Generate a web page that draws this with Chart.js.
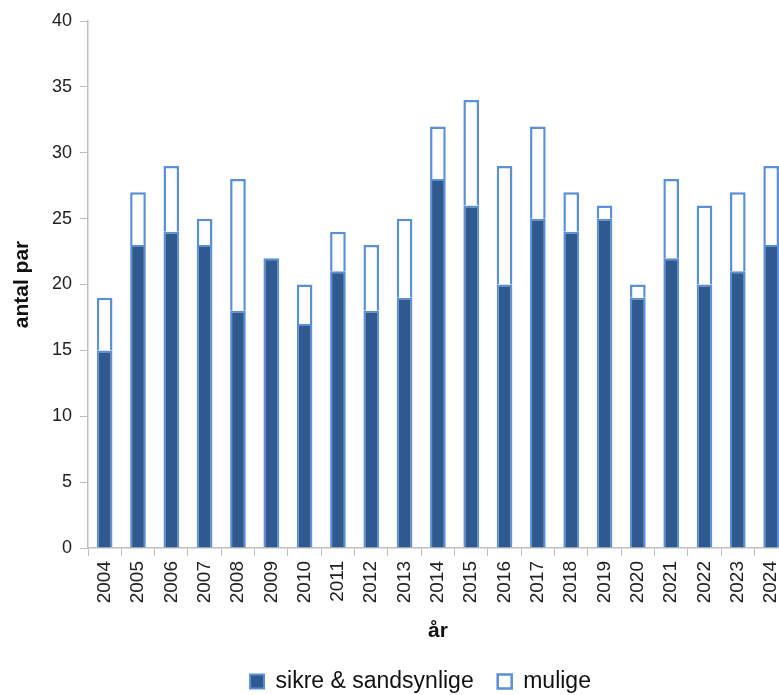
<!DOCTYPE html>
<html>
<head>
<meta charset="utf-8">
<script src="https://cdn.jsdelivr.net/npm/chart.js@4/dist/chart.umd.min.js"></script>
<style>
  html, body { margin: 0; padding: 0; background: #fff; overflow: hidden; }
  #wrap { width: 799px; height: 695px; }
</style>
</head>
<body>
<div id="wrap"><canvas id="chart" width="799" height="695"></canvas></div>
<script>
// Ynglende par pr. år
const years  = ['2004','2005','2006','2007','2008','2009','2010','2011','2012','2013','2014',
                '2015','2016','2017','2018','2019','2020','2021','2022','2023','2024'];
const sikre  = [15, 23, 24, 23, 18, 22, 17, 21, 18, 19, 28, 26, 20, 25, 24, 25, 19, 22, 20, 21, 23];
const mulige = [ 4,  4,  5,  2, 10,  0,  3,  3,  5,  6,  4,  8,  9,  7,  3,  1,  1,  6,  6,  6,  6];
const yTicks = [0, 5, 10, 15, 20, 25, 30, 35, 40];

const DARK   = '#2f5a8f';
const LIGHT  = '#5b8fd6';
const AXIS   = '#bfbfbf';
const FONT   = 'Liberation Sans, Arial, sans-serif';

// skub legenden lidt mod højre
const legendShift = {
  id: 'legendShift',
  afterLayout(chart) {
    chart.legend.left += 22;
    chart.legend.right += 22;
  },
};

new Chart(document.getElementById('chart'), {
  type: 'bar',
  data: {
    labels: years,
    datasets: [
      {
        label: 'sikre & sandsynlige',
        data: sikre,
        backgroundColor: DARK,
        borderColor: LIGHT,
        borderWidth: 2,
        barPercentage: 0.47,
        categoryPercentage: 1,
      },
      {
        label: 'mulige',
        data: mulige,
        backgroundColor: '#ffffff',
        borderColor: LIGHT,
        borderWidth: 2.5,
        barPercentage: 0.47,
        categoryPercentage: 1,
      },
    ],
  },
  plugins: [legendShift],
  options: {
    responsive: false,
    animation: false,
    layout: { padding: { top: 21, right: 2, left: 0, bottom: -8 } },
    plugins: {
      tooltip: { enabled: false },
      legend: {
        position: 'bottom',
        labels: {
          color: '#111',
          font: { family: FONT, size: 23 },
          boxWidth: 14,
          boxHeight: 14,
          padding: 24,
        },
      },
    },
    scales: {
      x: {
        stacked: true,
        grid: { drawOnChartArea: false, drawTicks: true, tickLength: 8, color: AXIS, offset: true },
        border: { color: AXIS, width: 1.5 },
        ticks: {
          color: '#222',
          font: { family: FONT, size: 19 },
          minRotation: 90,
          maxRotation: 90,
          padding: 5,
          autoSkip: false,
        },
        title: {
          display: true,
          text: 'år',
          color: '#111',
          font: { family: FONT, size: 21, weight: 'bold' },
          padding: { top: 4, bottom: 2 },
        },
        afterFit(scale) { scale.height = 98; },
      },
      y: {
        stacked: true,
        min: 0,
        max: 40,
        afterBuildTicks(scale) { scale.ticks = yTicks.map(v => ({ value: v })); },
        grid: { drawOnChartArea: false, drawTicks: true, tickLength: 8, color: AXIS },
        border: { color: AXIS, width: 1.5 },
        ticks: {
          color: '#222',
          font: { family: FONT, size: 18 },
          padding: 8,
        },
        title: {
          display: true,
          text: 'antal par',
          color: '#111',
          font: { family: FONT, size: 21, weight: 'bold' },
          padding: { top: 10, bottom: 2 },
        },
        afterFit(scale) { scale.width = 88; },
      },
    },
  },
});
</script>
</body>
</html>
